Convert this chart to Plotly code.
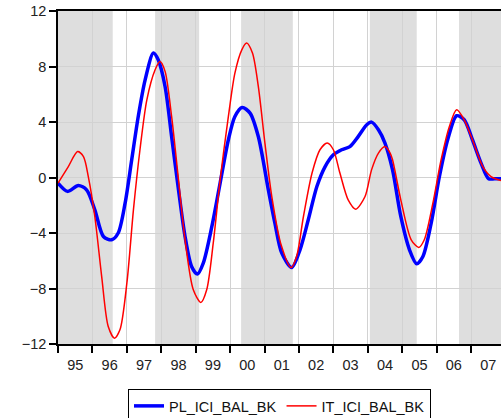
import pandas as pd
import plotly.graph_objects as go

# ---- data (decimal years) ----
pl_years = [1995.0, 1995.28, 1995.59, 1995.83, 1996.07, 1996.32, 1996.56, 1996.75, 1996.95,
            1997.14, 1997.33, 1997.53, 1997.77, 1997.91, 1998.11, 1998.3, 1998.5, 1998.69,
            1998.88, 1999.05, 1999.22, 1999.47, 1999.71, 1999.95, 2000.14, 2000.35, 2000.58,
            2000.82, 2001.11, 2001.3, 2001.5, 2001.79, 2002.03, 2002.27, 2002.52, 2002.76,
            2003.0, 2003.24, 2003.48, 2003.72, 2003.97, 2004.11, 2004.31, 2004.5, 2004.72,
            2004.96, 2005.21, 2005.42, 2005.6, 2005.84, 2006.08, 2006.32, 2006.58, 2006.8,
            2007.04, 2007.29, 2007.51, 2007.68, 2007.87]
pl_values = [-0.4, -1.0, -0.58, -0.89, -2.33, -4.25, -4.49, -4.0, -1.85,
             1.28, 4.4, 7.04, 8.97, 8.48, 6.56, 2.95, -0.89, -4.25,
             -6.41, -6.96, -6.17, -3.53, -0.4, 2.72, 4.4, 5.05, 4.64,
             2.95, -0.89, -3.29, -5.45, -6.49, -5.21, -3.05, -0.65, 0.79,
             1.64, 2.0, 2.23, 2.95, 3.8, 3.99, 3.44, 2.48, 0.55,
             -2.81, -5.21, -6.22, -5.69, -3.29, 0.07, 2.72, 4.45, 4.16,
             2.72, 1.04, -0.09, -0.09, -0.09]

it_years = [1995.0, 1995.3, 1995.57, 1995.74, 1995.88, 1996.07, 1996.27, 1996.46, 1996.64,
            1996.8, 1997.0, 1997.19, 1997.38, 1997.58, 1997.82, 1997.96, 1998.11, 1998.3,
            1998.5, 1998.69, 1998.93, 1999.15, 1999.32, 1999.51, 1999.71, 1999.95, 2000.14,
            2000.34, 2000.48, 2000.65, 2000.82, 2001.01, 2001.21, 2001.48, 2001.77, 2001.93,
            2002.13, 2002.38, 2002.61, 2002.82, 2003.0, 2003.19, 2003.43, 2003.65, 2003.92,
            2004.11, 2004.31, 2004.5, 2004.65, 2004.72, 2004.96, 2005.26, 2005.48, 2005.64,
            2005.89, 2006.13, 2006.37, 2006.58, 2006.8, 2007.04, 2007.34, 2007.58, 2007.87]
it_values = [-0.4, 0.79, 1.87, 1.5, 0.07, -2.81, -7.14, -10.74, -11.58,
             -10.98, -7.6, -2.33, 2.0, 5.6, 7.76, 8.36, 7.65, 4.4,
             -0.17, -4.49, -8.09, -9.0, -8.09, -4.73, -0.17, 4.4, 7.52,
             9.2, 9.69, 8.97, 6.56, 2.48, -1.37, -4.85, -6.49, -5.69,
             -2.81, 0.32, 2.0, 2.48, 2.0, 0.32, -1.61, -2.28, -1.37,
             0.55, 1.76, 2.23, 1.76, 1.28, -1.61, -4.49, -5.04, -4.49,
             -1.85, 1.28, 3.68, 4.88, 4.16, 2.72, 0.79, 0.07, -0.22]

# shaded periods (start, end) in decimal years
shade_start = [1995.0, 1997.82, 2000.32, 2004.06, 2006.65]
shade_end = [1996.59, 1999.10, 2001.82, 2005.42, 2008.0]

series_names = ["PL_ICI_BAL_BK", "IT_ICI_BAL_BK"]
y_ticks = [-12, -8, -4, 0, 4, 8, 12]


def to_date(y):
    yr = int(y)
    frac = y - yr
    return pd.Timestamp(yr, 1, 1) + pd.Timedelta(days=frac * 365.25)


fig = go.Figure()
fig.add_trace(go.Scatter(x=[to_date(v) for v in pl_years], y=pl_values, name=series_names[0],
                         mode="lines", line=dict(color="#0000FF", width=3.5, shape="spline", smoothing=0.8)))
fig.add_trace(go.Scatter(x=[to_date(v) for v in it_years], y=it_values, name=series_names[1],
                         mode="lines", line=dict(color="#FF0000", width=1.5, shape="spline", smoothing=0.8)))

for s, e in zip(shade_start, shade_end):
    fig.add_shape(type="rect", xref="x", yref="paper", x0=to_date(s), x1=to_date(e), y0=0, y1=1,
                  fillcolor="#DEDEDE", line=dict(width=0), layer="below")

font_family = "Liberation Sans, Arial, sans-serif"
fig.update_layout(
    width=501, height=418,
    margin=dict(l=58, r=0, t=11, b=73.5, autoexpand=False),
    paper_bgcolor="white", plot_bgcolor="white",
    font=dict(family=font_family, size=14.5, color="#222222"),
    showlegend=True,
    legend=dict(orientation="h", x=0.5, xanchor="center", y=-0.135, yanchor="top",
                bordercolor="black", borderwidth=1, font=dict(size=14.5, color="#111111"),
                itemwidth=30, tracegroupgap=0),
)
fig.update_xaxes(
    type="date", range=[to_date(1995.0), to_date(2007.87)],
    dtick="M12", tick0="1995-01-01", tickformat="%y", ticklabelmode="period",
    showgrid=True, gridcolor="#D2D2D2", gridwidth=1,
    showline=True, linecolor="black", linewidth=1.5, mirror=True,
    ticks="outside", ticklen=7, tickcolor="black", tickwidth=1.5,
    zeroline=False, automargin=False,
)
fig.update_yaxes(
    range=[-12, 12], tickvals=y_ticks,
    showgrid=True, gridcolor="#D2D2D2", gridwidth=1,
    showline=True, linecolor="black", linewidth=1.5, mirror=False,
    ticks="outside", ticklen=7, tickcolor="black", tickwidth=1.5,
    zeroline=False, automargin=False,
)

# remove the default page margin so the figure sits at the window's top-left corner
fig.write_html("out.html", config={"displayModeBar": False},
               post_script="document.body.style.margin='0';document.body.style.overflow='hidden';")
